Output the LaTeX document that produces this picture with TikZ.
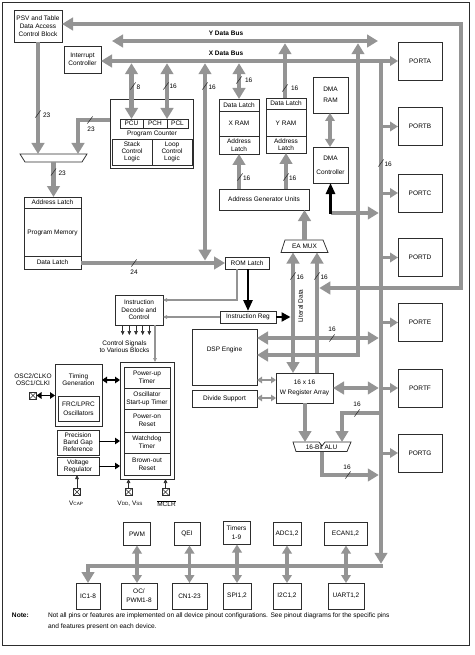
\documentclass[tikz,border=0pt]{standalone}
\usepackage{fontspec}
\setmainfont{Liberation Sans}
\usetikzlibrary{arrows.meta}
\definecolor{busgray}{RGB}{148,148,148}
\definecolor{edge}{RGB}{45,45,45}
\tikzset{
  Bt/.tip={Triangle[width=12.5pt,length=11pt]},
  Mt/.tip={Triangle[width=9.5pt,length=8pt]},
  St/.tip={Triangle[width=6.5pt,length=5pt]},
  Kt/.tip={Triangle[width=9pt,length=11pt]},
  Tt/.tip={Triangle[width=3.6pt,length=4pt]},
  sl/.pic={\draw[edge,line width=0.55pt] (-2.6,3.6) -- (2.6,-3.6);},
  pinbox/.style={draw=edge, line width=0.6pt, minimum size=7pt, fill=white,
    path picture={\draw[edge,line width=0.5pt] (path picture bounding box.north west) -- (path picture bounding box.south east) (path picture bounding box.south west) -- (path picture bounding box.north east);}},
}
\begin{document}
\begin{tikzpicture}[x=1pt,y=-1pt,
  every node/.style={font=\fontsize{6.5}{8}\selectfont, inner sep=0pt, outer sep=0pt, text=black},
  box/.style={draw=edge, line width=0.75pt, fill=white, align=center, anchor=north west},
  bus/.style={draw=busgray, line width=4.5pt},
  mbus/.style={draw=busgray, line width=3.5pt},
  sbus/.style={draw=busgray, line width=2.6pt},
  kbus/.style={draw=black, line width=2.6pt},
  tline/.style={draw=busgray, line width=1.2pt},
  kline/.style={draw=black, line width=0.9pt},
  pline/.style={draw=edge, line width=0.6pt},
  num/.style={font=\fontsize{6.5}{8}\selectfont, anchor=west},
  notef/.style={font=\fontsize{6.6}{8}\selectfont},
]
\useasboundingbox (0,0) rectangle (474,655);
\draw[edge, line width=0.8pt] (2.5,2.5) rectangle (469,645.5);

% level coordinates
\coordinate (yl) at (0,24);
\coordinate (yb) at (0,41);
\coordinate (ybs) at (0,43.2);
\coordinate (xb) at (0,61);
\coordinate (xbs) at (0,63.2);
\coordinate (pb) at (381,0);
\coordinate (pbw) at (378.8,0);

% ---------- boxes ----------
\node[box,minimum width=48pt,minimum height=32pt] (psv) at (14,10) {PSV and Table\\Data Access\\Control Block};
\node[box,minimum width=37pt,minimum height=27pt] (intc) at (64,46) {Interrupt\\Controller};

\node[box,minimum width=83pt,minimum height=69pt] (pcbox) at (110,99) {};
\node[box,minimum width=23pt,minimum height=9pt] (pcu) at (120,119) {PCU};
\node[box,minimum width=24pt,minimum height=9pt] (pch) at (143,119) {PCH};
\node[box,minimum width=21pt,minimum height=9pt] (pcl) at (167,119) {PCL};
\node (pct) at (152,133.5) {Program Counter};
\node[box,minimum width=40pt,minimum height=26pt] (stack) at (112,139) {Stack\\[-1pt]Control\\[-1pt]Logic};
\node[box,minimum width=40pt,minimum height=26pt] (loop) at (152,139) {Loop\\[-1pt]Control\\[-1pt]Logic};

\draw[edge, line width=0.75pt, fill=white] (20,154) -- (87,154) -- (82,162) -- (25,162) -- cycle;
\coordinate (mux) at (53.5,158);

\node[box,minimum width=57pt,minimum height=72pt] (pm) at (24,197) {Program Memory};
\node[box,minimum width=57pt,minimum height=11pt] (pmal) at (24,197) {Address Latch};
\node[box,minimum width=57pt,minimum height=13pt] (pmdl) at (24,256) {Data Latch};

\node[box,minimum width=44pt,minimum height=12pt] (romlatch) at (225,257) {ROM Latch};
\node[box,minimum width=56pt,minimum height=12pt] (ireg) at (220,311) {Instruction Reg};
\node[box,minimum width=48pt,minimum height=30pt] (idec) at (115,295) {Instruction\\[-0.5pt]Decode and\\[-0.5pt]Control};

\node[box,minimum width=40pt,minimum height=55pt] (xram) at (219,99) {};
\node[box,minimum width=40pt,minimum height=12pt] (xdl) at (219,99) {Data Latch};
\node[box,minimum width=40pt,minimum height=18pt] (xal) at (219,136) {Address\\[-0.5pt]Latch};
\node (xramt) at (239,123.5) {X RAM};
\node[box,minimum width=40pt,minimum height=55pt] (yram) at (266,98) {};
\node[box,minimum width=40pt,minimum height=11pt] (ydl) at (266,98) {Data Latch};
\node[box,minimum width=40pt,minimum height=17pt] (yal) at (266,136) {Address\\[-0.5pt]Latch};
\node (yramt) at (286,123) {Y RAM};

\node[box,minimum width=35pt,minimum height=36pt] (dmaram) at (313,77) {DMA\\[3.4pt]RAM};
\node[box,minimum width=35pt,minimum height=36pt] (dmactl) at (313,147) {DMA\\[6pt]Controller};
\node[box,minimum width=90pt,minimum height=21pt] (agu) at (219,189) {Address Generator Units};

\draw[edge, line width=0.75pt, fill=white] (285,240) -- (323,240) -- (328,252.5) -- (281,252.5) -- cycle;
\node (eamux) at (304.5,246.5) {EA MUX};

\node[box,minimum width=65pt,minimum height=56pt] (dsp) at (192,329) {};
\node (dspt) at (224.5,350) {DSP Engine};
\node[box,minimum width=65pt,minimum height=17pt] (div) at (192,390) {Divide Support};
\node[box,minimum width=57pt,minimum height=30pt] (wreg) at (276,373) {16 x 16\\[1.5pt]W Register Array};

\draw[edge, line width=0.75pt, fill=white] (293,442) -- (319,442) -- (322,446) -- (325,442) -- (351,442) -- (347,451.5) -- (296,451.5) -- cycle;
\node (alu) at (321.5,447.3) {16-Bit ALU};

% ports
\node[box,minimum width=44pt,minimum height=38pt] (porta) at (398,42) {PORTA};
\node[box,minimum width=44pt,minimum height=38pt] (portb) at (398,107.5) {PORTB};
\node[box,minimum width=44pt,minimum height=38pt] (portc) at (398,174) {PORTC};
\node[box,minimum width=44pt,minimum height=38pt] (portd) at (398,238.5) {PORTD};
\node[box,minimum width=44pt,minimum height=38pt] (porte) at (398,303.5) {PORTE};
\node[box,minimum width=44pt,minimum height=38pt] (portf) at (398,369) {PORTF};
\node[box,minimum width=44pt,minimum height=38pt] (portg) at (398,434) {PORTG};

% timing / reset
\node[box,minimum width=47pt,minimum height=62pt] (timing) at (55,364) {};
\node[align=center,font=\fontsize{6.5}{7}\selectfont] (timingt) at (78.5,379.5) {Timing\\Generation};
\node[box,minimum width=41pt,minimum height=25pt] (frc) at (58,396) {FRC/LPRC\\[0.5pt]Oscillators};
\node[box,minimum width=54pt,minimum height=117pt] (reset) at (120,362) {};
\node[box,minimum width=46pt,minimum height=21pt] (pwrt) at (124,367) {Power-up\\Timer};
\node[box,minimum width=46pt,minimum height=21pt] (ost) at (124,388) {Oscillator\\Start-up Timer};
\node[box,minimum width=46pt,minimum height=23pt] (por) at (124,409) {Power-on\\Reset};
\node[box,minimum width=46pt,minimum height=21pt] (wdt) at (124,432) {Watchdog\\Timer};
\node[box,minimum width=46pt,minimum height=22pt] (bor) at (124,453) {Brown-out\\Reset};
\node[box,minimum width=42pt,minimum height=25pt,font=\fontsize{6.5}{7}\selectfont] (pbg) at (57,430) {Precision\\Band Gap\\Reference};
\node[box,minimum width=42pt,minimum height=18pt,font=\fontsize{6.5}{7}\selectfont] (vreg) at (57,457) {Voltage\\Regulator};
\node[align=center,font=\fontsize{6.5}{7}\selectfont] (osct) at (33,379.3) {OSC2/CLKO\\OSC1/CLKI};
\node[pinbox] (oscpin) at (33,395.5) {};
\node[pinbox] (vcappin) at (77,492) {};
\node[pinbox] (vddpin) at (128.5,492) {};
\node[pinbox] (mclrpin) at (165.5,492) {};
\node (vcapt) at (76,503.5) {V{\fontsize{4.6}{5}\selectfont CAP}};
\node (vddt) at (130,503.5) {V{\fontsize{4.6}{5}\selectfont DD}, V{\fontsize{4.6}{5}\selectfont SS}};
\node (mclrt) at (166.5,503.5) {$\overline{\mbox{\fontsize{6.5}{8}\selectfont MCLR}}$};
\node[align=center,font=\fontsize{6.5}{7.5}\selectfont] (ctrlt) at (124.5,346.8) {Control Signals\\to Various Blocks};

% peripherals
\node[box,minimum width=27pt,minimum height=23pt] (pwm) at (123.5,522.5) {PWM};
\node[box,minimum width=26pt,minimum height=23pt] (qei) at (174,522.5) {QEI};
\node[box,minimum width=27pt,minimum height=23pt] (timers) at (223,521.5) {Timers\\[1pt]1-9};
\node[box,minimum width=28pt,minimum height=23pt] (adc) at (273,522.5) {ADC1,2};
\node[box,minimum width=43pt,minimum height=23pt] (ecan) at (324,522.5) {ECAN1,2};
\node[box,minimum width=24pt,minimum height=26pt] (ic) at (76,583) {IC1-8};
\node[box,minimum width=36pt,minimum height=26pt] (oc) at (121,583) {OC/\\[1pt]PWM1-8};
\node[box,minimum width=35pt,minimum height=26pt] (cn) at (172,583) {CN1-23};
\node[box,minimum width=28pt,minimum height=26pt] (spi) at (223,583) {SPI1,2};
\node[box,minimum width=28pt,minimum height=26pt] (i2c) at (273,583) {I2C1,2};
\node[box,minimum width=36pt,minimum height=26pt] (uart) at (328,583) {UART1,2};

% labels
\node[font=\bfseries\fontsize{6.5}{8}\selectfont] (ylab) at (226,33) {Y Data Bus};
\node[font=\bfseries\fontsize{6.5}{8}\selectfont] (xlab) at (226,53) {X Data Bus};
\node[rotate=90] (litt) at (300.5,306) {Literal Data};
\node[anchor=west,font=\bfseries\fontsize{6.6}{8}\selectfont] (notel) at (12,615.5) {Note:};
\node[anchor=west,notef] (note1) at (48,615.5) {Not all pins or features are implemented on all device pinout configurations. See pinout diagrams for the specific pins};
\node[anchor=west,notef] (note2) at (48,627) {and features present on each device.};

% ---------- buses ----------
\draw[bus,{Bt}-{Bt}] (psv.east |- yl) -- (461,24) -- (461,288) -- (319.3,288);
\draw[bus,{Bt}-{Bt}] (112,41) -- (378,41);
\draw[bus,{Bt}-{Mt}] (intc.east |- xb) -- (porta.west |- xb);
\draw[bus,{Bt}-{Bt}] (pcu.north) -- (pcu.north |- xbs);
\draw[bus,{Bt}-{Bt}] (pch.north east) -- (pch.north east |- xbs);
\draw[bus,{Bt}-{Bt}] (205,63.2) -- (205,260.6);
\draw[bus,{Bt}-{Bt}] (xdl.north) -- (xdl.north |- xbs);
\draw[bus,-{Bt}] (ydl.north -| 285,0) -- (285,43.2);
\draw[bus,{Bt}-{Bt}] (358,43.2) -- (358,355) -- (dsp.east |- 0,355);
\draw[bus,-{Bt}] (pb |- xb) -- (381,563.8);
\draw[bus,-{Bt}] (383.2,566) -- (88,566) -- (ic.north);

\draw[bus,-{Bt}] (psv.south) -- (38,154);
\draw[bus,-{Bt}] (pcbox.west |- 0,120) -- (78,120) -- (78,154);
\draw[bus,-{Bt}] (53.5,162) -- (53.5,197);
\draw[bus,-{Bt}] (pmdl.east |- 0,263) -- (romlatch.west |- 0,263);

\draw[bus,-{Bt}] (agu.north -| xal.south) -- (xal.south);
\draw[bus,-{Bt}] (agu.north -| yal.south) -- (yal.south);
\draw[bus,-{Bt}] (eamux |- 0,240) -- (eamux |- agu.south);
\draw[mbus,{Mt}-{Mt}] (dmaram.south -| 330,0) -- (dmactl.north -| 330,0);
\draw[bus,-{Bt}] (dmactl.south |- 0,213) -- (pbw |- 0,213);
\draw[kbus,-{Kt}] (dmactl.south |- 0,213.5) -- (dmactl.south);

\draw[bus,{Bt}-{Bt}] (293,252.5) -- (293,373);
\draw[bus,-{Bt}] (317,373) -- (317,252.5);

\draw[bus,{Bt}-{Bt}] (dsp.east |- 0,338) -- (pbw |- 0,338);
\draw[sbus,{St}-{St}] (dsp.east |- 0,380) -- (wreg.west |- 0,380);
\draw[sbus,{St}-{St}] (div.east |- 0,398) -- (wreg.west |- 0,398);
\draw[bus,{Bt}-{Bt}] (wreg.east |- 0,388) -- (pbw |- 0,388);
\draw[bus,-{Bt}] (305,403) -- (305,442);
\draw[bus,-{Bt}] (pb |- 0,413) -- (342,413) -- (342,442);
\draw[bus,-{Bt}] (322,451.5) -- (322,475) -- (pbw |- 0,475);

% port taps
\foreach \p in {portb,portc,portd,porte,portf,portg}
  \draw[sbus,line width=3pt,-{Mt}] (pb |- \p.west) -- (\p.west);

% peripheral taps
\draw[mbus,{Mt}-{Mt}] (pwm.south) -- (pwm.south |- oc.north);
\draw[mbus,{Mt}-{Mt}] (cn.north |- qei.south) -- (cn.north);
\draw[mbus,{Mt}-{Mt}] (spi.north |- timers.south) -- (spi.north);
\draw[mbus,{Mt}-{Mt}] (adc.south) -- (i2c.north);
\draw[mbus,{Mt}-{Mt}] (uart.north |- ecan.south) -- (uart.north);

% black / thin arrows
\draw[kbus,-{Kt}] (romlatch.south -| 248,0) -- (ireg.north -| 248,0);
\draw[kbus,-{Kt[length=9pt]}] (ireg.east) -- (290.5,317);
\draw[tline,-{Tt[fill=edge]}] (romlatch.south -| 237,0) -- (237,300) -- (idec.east |- 0,300);
\draw[tline,-{Tt[fill=edge]}] (ireg.west) -- (idec.east |- ireg.west);
\draw[tline,-{Tt[fill=edge]}] (idec.south east -| 155,0) -- (reset.north -| 155,0);
\foreach \x in {122.7,129.3,136,142.7,149.3}
  \draw[pline,-{Tt}] (\x,325) -- (\x,335);
\draw[kbus,line width=1.8pt,{St}-{St}] (timing.east |- 0,380) -- (reset.west |- 0,380);
\draw[kbus,line width=1.8pt,{St}-{St}] (oscpin.east) -- (timing.west |- oscpin.east);
\draw[kline,-{St}] (pbg.east |- 0,441) -- (reset.west |- 0,441);
\draw[kline,-{St}] (vreg.east |- 0,466) -- (reset.west |- 0,466);
\draw[pline,-{Tt}] (vcappin.north) -- (vcappin.north |- vreg.south);
\draw[pline,-{Tt}] (vddpin.north) -- (vddpin.north |- reset.south);
\draw[pline,-{Tt}] (mclrpin.north) -- (mclrpin.north |- reset.south);

% width labels
\pic at (38,114) {sl};   \node[num] (n1) at (43,115) {23};
\pic at (90,120) {sl};   \node (n2) at (91,129.5) {23};
\pic at (53.5,172) {sl}; \node[num] (n3) at (58.5,173.5) {23};
\pic at (133,86) {sl};   \node[num] (n4) at (136.5,87.5) {8};
\pic at (166,86) {sl};   \node[num] (n5) at (169.5,86) {16};
\pic at (205,86) {sl};   \node[num] (n6) at (208.5,87) {16};
\pic at (239,80) {sl};   \node[num] (n7) at (245,80.5) {16};
\pic at (285,88) {sl};   \node[num] (n8) at (291,88) {16};
\pic at (240,177) {sl};  \node[num] (n9) at (243,178.5) {16};
\pic at (286,177) {sl};  \node[num] (n10) at (289,178.5) {16};
\pic at (381,163) {sl};  \node[num] (n11) at (384.5,164.5) {16};
\pic at (293,276) {sl};  \node[num] (n12) at (296.5,277.5) {16};
\pic at (317,276) {sl};  \node[num] (n13) at (320.5,277.5) {16};
\pic at (332,338) {sl};  \node (n14) at (332,329.5) {16};
\pic at (357,413) {sl};  \node (n15) at (357,404.5) {16};
\pic at (348,475) {sl};  \node (n16) at (347,467) {16};
\pic at (134,263) {sl};  \node (n17) at (134,272) {24};
\end{tikzpicture}
\end{document}
